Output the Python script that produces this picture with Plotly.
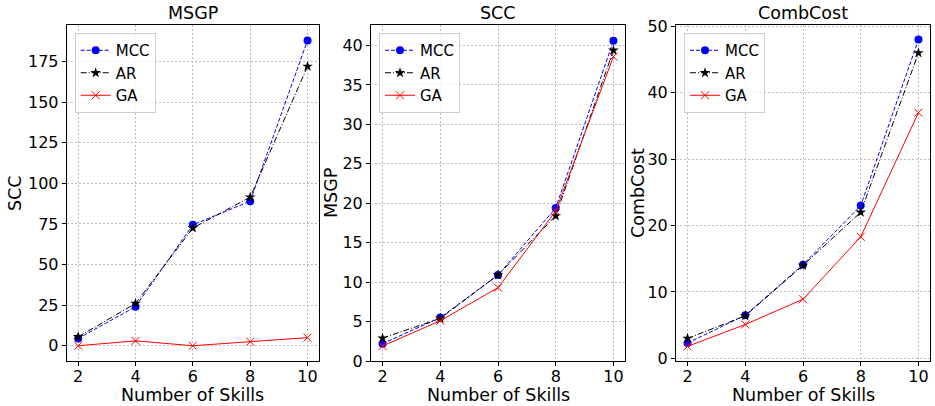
import plotly.graph_objects as go

skills = [2, 4, 6, 8, 10]

# Panel 1: MSGP (y label SCC)
p1_mcc = [4.5, 24, 74.5, 89, 188]
p1_ar = [5.5, 26, 72.5, 91.5, 172]
p1_ga = [0, 3, 0, 2.5, 5]

# Panel 2: SCC (y label MSGP)
p2_mcc = [2.2, 5.5, 10.9, 19.4, 40.6]
p2_ar = [2.9, 5.4, 10.9, 18.4, 39.4]
p2_ga = [1.9, 5.1, 9.3, 19.0, 38.6]

# Panel 3: CombCost
p3_mcc = [2.3, 6.5, 14.1, 23.0, 48.0]
p3_ar = [3.0, 6.4, 14.0, 22.0, 46.0]
p3_ga = [1.8, 5.1, 8.9, 18.3, 37.0]

titles = ["MSGP", "SCC", "CombCost"]
ylabels = ["SCC", "MSGP", "CombCost"]
yticks = [list(range(0, 176, 25)), list(range(0, 41, 5)), list(range(0, 51, 10))]
yranges = [[-9.4, 197.5], [0, 42.6], [-0.4, 50.2]]

W, H = 935, 406
FONT = "DejaVu Sans"
# pixel geometry of each axes box
boxes = [(66.7, 319), (371, 625), (676, 930)]
top_px, bot_px = 25, 361

fig = go.Figure()
data = [(p1_mcc, p1_ar, p1_ga), (p2_mcc, p2_ar, p2_ga), (p3_mcc, p3_ar, p3_ga)]
legnames = ["legend", "legend2", "legend3"]

for i, (mcc, ar, ga) in enumerate(data):
    xa = "x" if i == 0 else f"x{i+1}"
    ya = "y" if i == 0 else f"y{i+1}"
    lg = legnames[i]
    fig.add_trace(go.Scatter(x=skills, y=mcc, name="MCC", mode="lines+markers",
                             line=dict(color="blue", width=1, dash="4px,2px"),
                             marker=dict(symbol="circle", size=8, color="blue"),
                             xaxis=xa, yaxis=ya, legend=lg))
    fig.add_trace(go.Scatter(x=skills, y=ar, name="AR", mode="lines+markers",
                             line=dict(color="black", width=1, dash="6px,2px,1px,2px"),
                             marker=dict(symbol="star", size=8, color="black"),
                             xaxis=xa, yaxis=ya, legend=lg))
    fig.add_trace(go.Scatter(x=skills, y=ga, name="GA", mode="lines+markers",
                             line=dict(color="red", width=1),
                             marker=dict(symbol="x-thin", size=8, color="red",
                                         line=dict(color="red", width=1)),
                             xaxis=xa, yaxis=ya, legend=lg))

layout = dict(
    width=W, height=H,
    margin=dict(l=0, r=0, t=0, b=0, autoexpand=False),
    paper_bgcolor="white", plot_bgcolor="white",
    font=dict(family=FONT, size=16, color="black"),
    showlegend=True,
)

annotations = []
for i in range(3):
    x0, x1 = boxes[i]
    dom_x = [x0 / W, x1 / W]
    dom_y = [1 - bot_px / H, 1 - top_px / H]
    sfx = "" if i == 0 else str(i + 1)
    axis_common = dict(showline=True, linecolor="black", linewidth=1, mirror=True,
                       ticks="outside", ticklen=4, tickcolor="black",
                       showgrid=True, gridcolor="#bdbdbd", gridwidth=0.8, griddash="2px,2px",
                       zeroline=False, automargin=False,
                       tickfont=dict(family=FONT, size=16, color="black"))
    layout[f"xaxis{sfx}"] = dict(axis_common, domain=dom_x, range=[1.6, 10.4],
                                 tickvals=skills, anchor=f"y{sfx}", ticklabelstandoff=-3)
    layout[f"yaxis{sfx}"] = dict(axis_common, domain=dom_y, range=yranges[i],
                                 tickvals=yticks[i], anchor=f"x{sfx}")
    cx = (x0 + x1) / 2 / W
    annotations.append(dict(text=titles[i], x=cx, y=1 - 13 / H, xref="paper", yref="paper",
                            showarrow=False, font=dict(size=17.5), xanchor="center", yanchor="middle"))
    annotations.append(dict(text="Number of Skills", x=cx, y=1 - 395 / H, xref="paper", yref="paper",
                            showarrow=False, font=dict(size=17.5), xanchor="center", yanchor="middle"))
    ylx = [15, 331, 638][i]
    annotations.append(dict(text=ylabels[i], x=ylx / W, y=1 - 193 / H, xref="paper", yref="paper",
                            showarrow=False, font=dict(size=17.5), textangle=-90,
                            xanchor="center", yanchor="middle"))
    layout[legnames[i]] = dict(x=(x0 + 8) / W, y=1 - 33 / H, xanchor="left", yanchor="top",
                               bgcolor="rgba(255,255,255,0.8)", bordercolor="#cccccc", borderwidth=1,
                               font=dict(family=FONT, size=15, color="black"))

layout["annotations"] = annotations
fig.update_layout(**layout)
fig.write_html("out.html", config={"displayModeBar": False},
               post_script="document.body.style.margin='0px';")
